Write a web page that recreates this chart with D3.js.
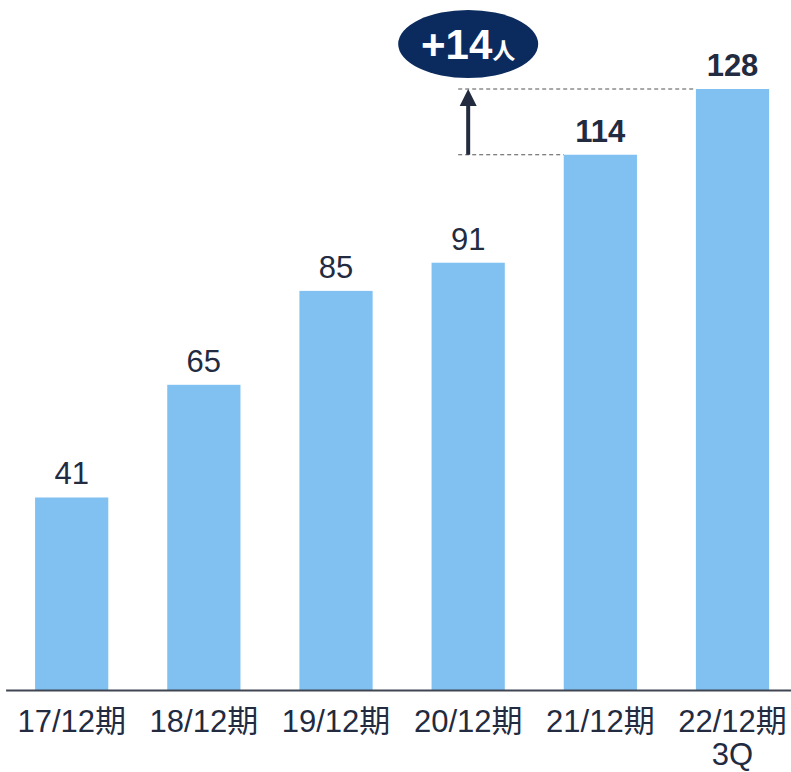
<!DOCTYPE html>
<html>
<head>
<meta charset="utf-8">
<script src="https://cdn.jsdelivr.net/npm/d3@7"></script>
<style>
  body { margin: 0; background: #fff; }
  text { font-family: "Liberation Sans", Arial, "Noto Sans CJK JP", sans-serif; }
</style>
</head>
<body>
<div id="chart"></div>
<script>
// Data
const periods = ["17/12期", "18/12期", "19/12期", "20/12期", "21/12期", "22/12期"];
const subLabels = ["", "", "", "", "", "3Q"];
const counts = [41, 65, 85, 91, 114, 128];
const boldLabels = [false, false, false, false, true, true];
const deltaText = "+14";
const deltaUnit = "人";

function draw() {
  // Dimensions
  let dimensions = {
    width: 791,
    height: 772,
    axisY: 690,
    topY: 89,
  };

  const textColor = "#222b3f";
  const barColor = "#80c1f2";

  const svg = d3
    .select("#chart")
    .append("svg")
    .attr("width", dimensions.width)
    .attr("height", dimensions.height);

  // Scales
  const xScale = d3
    .scaleBand()
    .domain(periods)
    .range([5.6, 798.6])
    .paddingInner(0.446)
    .paddingOuter(0.223);

  const yScale = d3
    .scaleLinear()
    .domain([0, d3.max(counts)])
    .range([dimensions.axisY, dimensions.topY]);

  const data = periods.map((p, i) => ({ p, v: counts[i], sub: subLabels[i], bold: boldLabels[i] }));

  // Bars
  svg
    .append("g")
    .selectAll("rect")
    .data(data)
    .join("rect")
    .attr("x", (d) => xScale(d.p))
    .attr("y", (d) => yScale(d.v))
    .attr("width", xScale.bandwidth())
    .attr("height", (d) => yScale(0) - yScale(d.v))
    .attr("fill", barColor);

  // Value labels
  svg
    .append("g")
    .selectAll("text")
    .data(data)
    .join("text")
    .attr("x", (d) => xScale(d.p) + xScale.bandwidth() / 2)
    .attr("y", (d) => yScale(d.v) - 13)
    .attr("text-anchor", "middle")
    .attr("fill", textColor)
    .attr("font-size", 31)
    .attr("font-weight", (d) => (d.bold ? "bold" : "normal"))
    .text((d) => d.v);

  // X axis
  const xAxisGroup = svg
    .append("g")
    .attr("transform", `translate(0, ${dimensions.axisY})`)
    .call(d3.axisBottom(xScale).tickSize(0).tickPadding(0));

  xAxisGroup.select(".domain").attr("stroke", "#404552").attr("stroke-width", 2);
  xAxisGroup.selectAll(".tick text").remove();

  const ticks = xAxisGroup.selectAll(".tick");
  ticks
    .append("text")
    .attr("y", 42)
    .attr("text-anchor", "middle")
    .attr("fill", textColor)
    .attr("font-size", 31)
    .text((d) => d);
  ticks
    .append("text")
    .attr("y", 75)
    .attr("text-anchor", "middle")
    .attr("fill", textColor)
    .attr("font-size", 31)
    .text((d, i) => subLabels[i]);

  // Annotation: growth from 21/12 to 22/12
  const ax = xScale(periods[3]) + xScale.bandwidth() / 2;
  const yLow = yScale(counts[4]);
  const yHigh = yScale(counts[5]);

  const ann = svg.append("g");
  ann
    .append("line")
    .attr("x1", ax - 10)
    .attr("x2", xScale(periods[4]))
    .attr("y1", yLow)
    .attr("y2", yLow)
    .attr("stroke", "#555")
    .attr("stroke-width", 1.2)
    .attr("stroke-dasharray", "4,3");
  ann
    .append("line")
    .attr("x1", ax - 10)
    .attr("x2", xScale(periods[5]))
    .attr("y1", yHigh)
    .attr("y2", yHigh)
    .attr("stroke", "#555")
    .attr("stroke-width", 1.2)
    .attr("stroke-dasharray", "4,3");

  ann
    .append("line")
    .attr("x1", ax)
    .attr("x2", ax)
    .attr("y1", yLow)
    .attr("y2", yHigh + 14)
    .attr("stroke", textColor)
    .attr("stroke-width", 4);
  ann
    .append("path")
    .attr("d", `M${ax},${yHigh} L${ax - 8.5},${yHigh + 17} L${ax + 8.5},${yHigh + 17} Z`)
    .attr("fill", textColor);

  ann
    .append("ellipse")
    .attr("cx", ax)
    .attr("cy", 44)
    .attr("rx", 70)
    .attr("ry", 34)
    .attr("fill", "#0b2a5e");

  const label = ann
    .append("text")
    .attr("x", ax)
    .attr("y", 59)
    .attr("text-anchor", "middle")
    .attr("fill", "#fff")
    .attr("font-weight", "bold");
  label.append("tspan").attr("font-size", 42).text(deltaText);
  label.append("tspan").attr("font-size", 23).text(deltaUnit);
}

draw();
</script>
</body>
</html>
